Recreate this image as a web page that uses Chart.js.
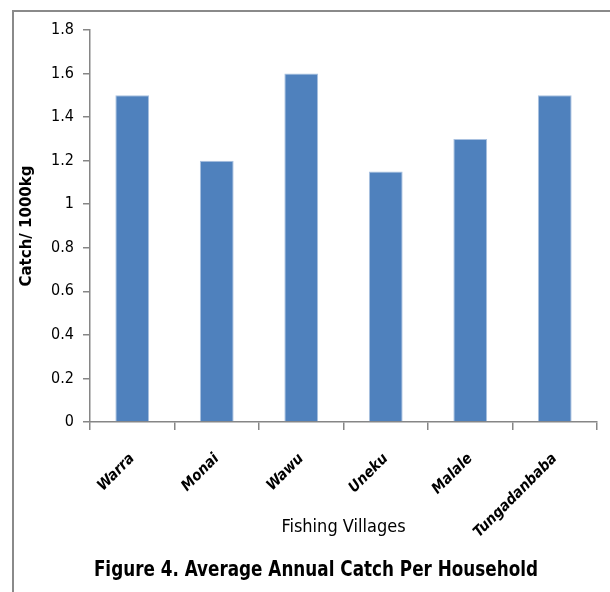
<!DOCTYPE html>
<html>
<head>
<meta charset="utf-8">
<script src="https://cdn.jsdelivr.net/npm/chart.js@4.4.1/dist/chart.umd.min.js"></script>
<style>
  html, body { margin: 0; padding: 0; background: #fff; }
  #wrap { position: relative; width: 610px; height: 592px; overflow: hidden; }
  #frame { position: absolute; left: 12px; top: 10px; right: -5px; bottom: -5px;
           border-top: 2px solid #8a8a8a; border-left: 2px solid #8a8a8a; }
  #catchChart { position: absolute; left: 0; top: 0; }
  #caption { position: absolute; left: 316px; top: 568px; transform: translate(-50%, -50%) scaleX(0.85);
             white-space: nowrap; font: bold 22px "DejaVu Sans Condensed", "DejaVu Sans", sans-serif;
             color: #000; }
</style>
</head>
<body>
<div id="wrap">
  <div id="frame"></div>
  <canvas id="catchChart" width="610" height="592"></canvas>
  <div id="caption">Figure 4. Average Annual Catch Per Household</div>
</div>
<script>
// chart data
const villages = ["Warra", "Monai", "Wawu", "Uneku", "Malale", "Tungadanbaba"];
const catchValues = [1.5, 1.2, 1.6, 1.15, 1.3, 1.5];
const yTicks = [0, 0.2, 0.4, 0.6, 0.8, 1, 1.2, 1.4, 1.6, 1.8];

const barColor = "#4F81BD";
const axisColor = "#868686";
const narrowFont = "'DejaVu Sans Condensed', 'DejaVu Sans', sans-serif";

var ctx = document.getElementById("catchChart");
var catchChart = new Chart(ctx, {
    type: 'bar',
    data: {
        labels: villages,
        datasets: [{
            data: catchValues,
            backgroundColor: barColor,
            borderColor: "#a9c1e0",
            borderWidth: 1,
            barPercentage: 0.4,
            categoryPercentage: 1.0
        }]
    },
    options: {
        responsive: false,
        animation: false,
        devicePixelRatio: 1,
        layout: {
            padding: { top: 30, right: 13, left: 0, bottom: 0 }
        },
        plugins: {
            legend: { display: false },
            tooltip: { enabled: false }
        },
        scales: {
            x: {
                grid: {
                    drawOnChartArea: false,
                    drawTicks: true,
                    tickLength: 8,
                    color: axisColor,
                    lineWidth: 1.5
                },
                border: { color: axisColor, width: 1.5 },
                ticks: {
                    color: "#000",
                    minRotation: 45,
                    maxRotation: 45,
                    padding: 20,
                    font: { family: narrowFont, size: 15, style: 'italic', weight: 'bold' }
                },
                title: {
                    display: true,
                    text: "Fishing Villages",
                    color: "#000",
                    font: { family: narrowFont, size: 18 },
                    padding: { top: 0, bottom: 54 }
                },
                afterFit: function (scale) { scale.height = 170; }
            },
            y: {
                min: 0,
                max: 1.8,
                afterBuildTicks: function (scale) {
                    scale.ticks = yTicks.map(function (v) { return { value: v }; });
                },
                grid: {
                    drawOnChartArea: false,
                    drawTicks: true,
                    tickLength: 7,
                    color: axisColor,
                    lineWidth: 1.5
                },
                border: { color: axisColor, width: 1.5 },
                ticks: {
                    color: "#000",
                    padding: 9,
                    font: { family: narrowFont, size: 16 },
                    callback: function (v) { return String(v); }
                },
                title: {
                    display: true,
                    text: "Catch/ 1000kg",
                    color: "#000",
                    font: { family: "'DejaVu Sans', sans-serif", size: 15, weight: 'bold' },
                    padding: { top: 18, bottom: 0 }
                },
                afterFit: function (scale) { scale.width = 90; }
            }
        }
    }
});
</script>
</body>
</html>
